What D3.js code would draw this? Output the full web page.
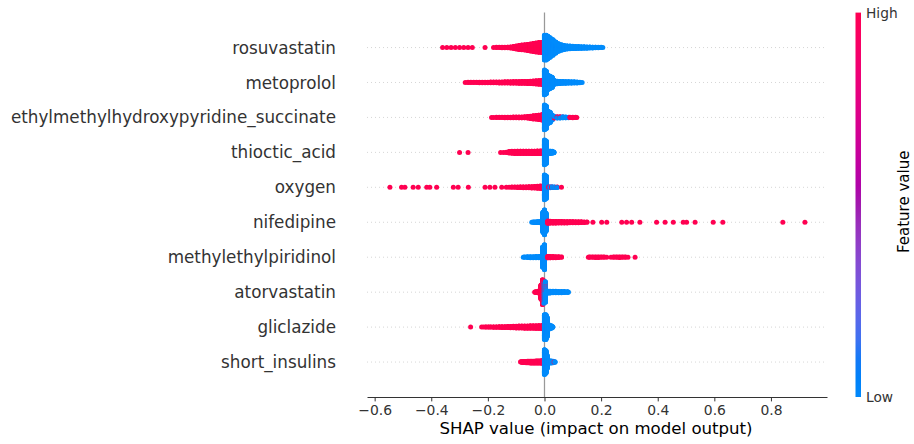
<!DOCTYPE html>
<html><head><meta charset="utf-8">
<script src="https://cdn.jsdelivr.net/npm/d3@7"></script>
<style>body{margin:0;background:#fff;} svg{display:block;font-family:"DejaVu Sans",sans-serif;}</style>
</head><body><svg id="chart" width="914" height="444"></svg>
<script>
// ---- data: [shap value, number of points] ----
const featureNames = ["rosuvastatin","metoprolol","ethylmethylhydroxypyridine_succinate","thioctic_acid","oxygen","nifedipine","methylethylpiridinol","atorvastatin","gliclazide","short_insulins"];
const xTicks = [-0.6,-0.4,-0.2,0.0,0.2,0.4,0.6,0.8];
const colorbarLabels = ["Low","High"];

const rosuvastatinHigh = [[-0.36,1],[-0.345,1],[-0.33,1],[-0.315,1],[-0.3,1],[-0.285,1],[-0.27,1],[-0.255,1],[-0.21,1],[-0.18,1],[-0.17,2],[-0.16,2],[-0.15,3],[-0.14,3],[-0.13,4],[-0.12,6],[-0.11,10],[-0.1,15],[-0.09,20],[-0.08,24],[-0.07,26],[-0.06,30],[-0.05,35],[-0.04,40],[-0.03,44],[-0.02,48],[-0.01,50],[-0.004,50]];
const rosuvastatinLow = [[0,121],[0.006,121],[0.012,110],[0.02,95],[0.03,76],[0.04,55],[0.05,37],[0.06,27],[0.07,20],[0.08,16],[0.09,14],[0.1,12],[0.11,11],[0.12,10],[0.13,9],[0.14,8],[0.15,7],[0.16,6],[0.17,5],[0.18,4],[0.19,3],[0.2,2],[0.206,1]];

const metoprololHigh = [[-0.28,1],[-0.27,2],[-0.26,2],[-0.25,2],[-0.24,2],[-0.23,3],[-0.22,3],[-0.21,3],[-0.2,3],[-0.19,4],[-0.18,4],[-0.17,4],[-0.16,5],[-0.15,5],[-0.14,6],[-0.13,6],[-0.12,7],[-0.11,8],[-0.1,8],[-0.09,9],[-0.08,10],[-0.07,10],[-0.06,11],[-0.05,12],[-0.04,14],[-0.03,16],[-0.02,18],[-0.01,20],[-0.004,22]];
const metoprololLow = [[0,121],[0.006,110],[0.013,70],[0.02,60],[0.027,50],[0.035,20],[0.045,13],[0.055,11],[0.065,10],[0.075,9],[0.085,8],[0.095,7],[0.105,6],[0.115,5],[0.125,3],[0.133,1]];

const ethylmethylhydroxypyridineHigh = [[-0.187,1],[-0.18,1],[-0.17,2],[-0.16,2],[-0.15,2],[-0.14,3],[-0.13,3],[-0.12,3],[-0.11,4],[-0.1,4],[-0.09,5],[-0.08,5],[-0.07,6],[-0.06,8],[-0.05,12],[-0.04,16],[-0.03,18],[-0.02,22],[-0.01,26],[-0.004,28],[0.035,2],[0.045,2],[0.055,2],[0.065,1],[0.09,2],[0.1,3],[0.11,2],[0.114,1]];
const ethylmethylhydroxypyridineLow = [[0,121],[0.006,110],[0.013,60],[0.02,50],[0.027,25],[0.035,6],[0.045,5],[0.055,5],[0.065,5],[0.075,5],[0.085,3]];

const thiocticAcidHigh = [[-0.3,1],[-0.27,1],[-0.155,1],[-0.145,1],[-0.135,2],[-0.125,8],[-0.115,10],[-0.105,11],[-0.095,12],[-0.085,12],[-0.075,12],[-0.065,12],[-0.055,12],[-0.045,13],[-0.035,13],[-0.025,14],[-0.015,14],[-0.006,16]];
const thiocticAcidLow = [[0,121],[0.006,110],[0.013,14],[0.02,12],[0.027,10],[0.033,5]];

const oxygenHigh = [[-0.546,1],[-0.505,1],[-0.493,1],[-0.464,1],[-0.446,1],[-0.416,1],[-0.405,1],[-0.381,1],[-0.322,1],[-0.305,1],[-0.269,1],[-0.21,1],[-0.193,1],[-0.175,1],[-0.151,1],[-0.135,1],[-0.125,1],[-0.115,2],[-0.105,2],[-0.095,3],[-0.085,4],[-0.075,5],[-0.065,5],[-0.055,6],[-0.045,7],[-0.035,8],[-0.025,10],[-0.015,12],[-0.006,14],[0.015,2],[0.025,2],[0.035,1],[0.045,1],[0.06,1]];
const oxygenLow = [[0,121],[0.006,110],[0.013,5],[0.02,5],[0.028,4],[0.036,3],[0.045,2]];

const nifedipineHigh = [[0.012,12],[0.02,10],[0.03,9],[0.04,9],[0.05,8],[0.06,8],[0.07,7],[0.08,7],[0.09,6],[0.1,6],[0.11,5],[0.12,5],[0.13,4],[0.14,3],[0.15,2],[0.171,1],[0.202,1],[0.22,1],[0.273,1],[0.29,1],[0.308,1],[0.337,1],[0.396,1],[0.426,1],[0.455,1],[0.49,1],[0.502,1],[0.532,1],[0.596,1],[0.63,1],[0.842,1],[0.92,1]];
const nifedipineLow = [[-0.045,1],[-0.04,2],[-0.035,3],[-0.03,3],[-0.025,4],[-0.02,4],[-0.015,5],[-0.01,8],[-0.005,100],[0,121],[0.005,90]];

const methylethylpiridinolHigh = [[0.012,8],[0.02,7],[0.03,6],[0.04,5],[0.05,4],[0.06,2],[0.155,1],[0.16,2],[0.17,2],[0.18,3],[0.19,3],[0.2,2],[0.21,2],[0.22,1],[0.235,1],[0.245,2],[0.255,2],[0.265,3],[0.275,2],[0.285,2],[0.295,1],[0.32,1]];
const methylethylpiridinolLow = [[-0.075,1],[-0.07,2],[-0.06,4],[-0.05,5],[-0.04,5],[-0.03,6],[-0.02,6],[-0.012,8],[-0.006,100],[0,121]];

const atorvastatinHigh = [[-0.034,2],[-0.03,4],[-0.025,5],[-0.02,6],[-0.016,20],[-0.012,70],[-0.007,121],[-0.002,70],[0.003,10]];
const atorvastatinLow = [[-0.002,40],[0.003,90],[0.008,12],[0.015,9],[0.02,9],[0.03,8],[0.04,8],[0.05,7],[0.06,7],[0.07,6],[0.08,4],[0.084,2]];

const gliclazideHigh = [[-0.261,1],[-0.222,1],[-0.215,1],[-0.207,2],[-0.198,2],[-0.19,2],[-0.18,3],[-0.17,3],[-0.16,4],[-0.15,5],[-0.14,5],[-0.13,6],[-0.12,7],[-0.11,8],[-0.1,9],[-0.09,10],[-0.08,10],[-0.07,11],[-0.06,11],[-0.05,12],[-0.04,12],[-0.03,13],[-0.02,14],[-0.01,15],[-0.004,16]];
const gliclazideLow = [[0,121],[0.005,121],[0.01,90],[0.017,20],[0.024,12],[0.029,4]];

const shortInsulinsHigh = [[-0.084,2],[-0.08,3],[-0.075,5],[-0.07,6],[-0.065,7],[-0.06,8],[-0.055,8],[-0.05,9],[-0.045,9],[-0.04,9],[-0.035,9],[-0.03,10],[-0.025,10],[-0.02,10],[-0.015,10],[-0.01,12],[-0.005,14],[0.034,1]];
const shortInsulinsLow = [[0,121],[0.005,110],[0.01,60],[0.017,12],[0.024,10],[0.03,8],[0.037,3]];

const highSeries = [rosuvastatinHigh, metoprololHigh, ethylmethylhydroxypyridineHigh, thiocticAcidHigh, oxygenHigh, nifedipineHigh, methylethylpiridinolHigh, atorvastatinHigh, gliclazideHigh, shortInsulinsHigh];
const lowSeries = [rosuvastatinLow, metoprololLow, ethylmethylhydroxypyridineLow, thiocticAcidLow, oxygenLow, nifedipineLow, methylethylpiridinolLow, atorvastatinLow, gliclazideLow, shortInsulinsLow];

// ---- layout ----
const svg = d3.select("#chart");
const x = d3.scaleLinear().domain([-0.627, 0.998]).range([367, 827]);
const nF = featureNames.length;
const y = d3.scaleLinear().domain([-1, nF]).range([397, 12.6]);
const HIGH = "#ff0051", LOW = "#008bfb";
const axisColor = "#333333";

// colour scale like SHAP red_blue (LCh path with lightness dip)
function redBlue(t) {
  const l = t < 0.5 ? 54 + (40 - 54) * (t / 0.5) : 40 + (54 - 40) * ((t - 0.5) / 0.5);
  const c = 70 + (90 - 70) * t;
  const h = 266.93 + (380.32 - 266.93) * t;
  return d3.hcl(h % 360, c, l).formatHex();
}

// beeswarm layout (SHAP style stacking)
function swarm(high, low) {
  const groups = new Map();
  function add(arr, col) {
    arr.forEach(([v, n]) => {
      const k = v.toFixed(4);
      if (!groups.has(k)) groups.set(k, { v, items: [] });
      const g = groups.get(k);
      for (let i = 0; i < n; i++) g.items.push({ v, c: col, key: (i + 0.5) / n });
    });
  }
  add(high, 1); add(low, 0);
  const pts = [];
  let maxY = 0;
  [...groups.values()].sort((a, b) => a.v - b.v).forEach(g => {
    g.items.sort((a, b) => a.key - b.key || a.c - b.c);
    g.items.forEach((p, layer) => {
      p.ys = Math.ceil(layer / 2) * ((layer % 2) * 2 - 1);
      if (p.ys + 1 > maxY) maxY = p.ys + 1;
      pts.push(p);
    });
  });
  const f = 0.9 * 0.4 / maxY;
  pts.forEach(p => p.ys *= f);
  return pts;
}

// row guide lines
svg.append("g").selectAll("line").data(featureNames).join("line")
  .attr("x1", x.range()[0]).attr("x2", x.range()[1])
  .attr("y1", (d, i) => y(nF - 1 - i)).attr("y2", (d, i) => y(nF - 1 - i))
  .attr("stroke", "#cccccc").attr("stroke-width", 0.8).attr("stroke-dasharray", "1,3");

// zero line
svg.append("line").attr("x1", x(0)).attr("x2", x(0)).attr("y1", y(nF)).attr("y2", y(-1))
  .attr("stroke", "#999999").attr("stroke-width", 1.25);

// points
const ptsG = svg.append("g");
featureNames.forEach((name, i) => {
  const pts = swarm(highSeries[i], lowSeries[i]);
  const pos = nF - 1 - i;
  ptsG.append("g").selectAll("circle").data(pts).join("circle")
    .attr("cx", d => x(d.v)).attr("cy", d => y(pos + d.ys)).attr("r", 2.5)
    .attr("fill", d => d.c ? HIGH : LOW);
});

// y labels
svg.append("g").selectAll("text").data(featureNames).join("text")
  .attr("x", 336).attr("y", (d, i) => y(nF - 1 - i)).attr("dy", "0.36em")
  .attr("text-anchor", "end").attr("font-size", "16.8px").attr("fill", axisColor)
  .text(d => d);

// x axis
const xAxis = d3.axisBottom(x).tickValues(xTicks).tickSize(4.4).tickSizeOuter(0).tickPadding(4.2)
  .tickFormat(d3.format(".1f"));
const gx = svg.append("g").attr("transform", `translate(0,${y(-1)})`).call(xAxis);
gx.select(".domain").attr("stroke", axisColor).attr("stroke-width", 1);
gx.selectAll(".tick line").attr("stroke", axisColor).attr("stroke-width", 1);
gx.selectAll(".tick text").attr("fill", axisColor).attr("font-size", "13.9px").attr("font-family", "DejaVu Sans");
svg.append("text").attr("x", 596).attr("y", 434)
  .attr("text-anchor", "middle").attr("font-size", "16.6px").attr("fill", "#000")
  .text("SHAP value (impact on model output)");

// colour bar
const defs = svg.append("defs");
const grad = defs.append("linearGradient").attr("id", "cb").attr("x1", 0).attr("y1", 1).attr("x2", 0).attr("y2", 0);
d3.range(0, 1.0001, 0.05).forEach(t => grad.append("stop").attr("offset", t).attr("stop-color", redBlue(t)));
const cbTop = y(nF), cbBot = y(-1);
svg.append("rect").attr("x", 855.5).attr("y", cbTop).attr("width", 5.5).attr("height", cbBot - cbTop).attr("fill", "url(#cb)");
svg.append("text").attr("x", 866).attr("y", cbTop).attr("dy", "0.36em").attr("font-size", "13.75px").attr("fill", axisColor).text(colorbarLabels[1]);
svg.append("text").attr("x", 866).attr("y", cbBot).attr("dy", "0.36em").attr("font-size", "13.75px").attr("fill", axisColor).text(colorbarLabels[0]);
svg.append("text").attr("transform", `translate(909,${(cbTop + cbBot) / 2 - 3}) rotate(-90)`)
  .attr("text-anchor", "middle").attr("font-size", "15px").attr("fill", "#000").text("Feature value");
</script></body></html>
